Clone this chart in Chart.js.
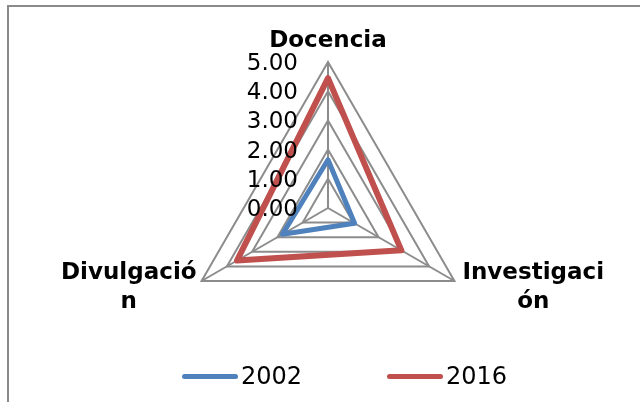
<!DOCTYPE html>
<html>
<head>
<meta charset="utf-8">
<script src="https://cdn.jsdelivr.net/npm/chart.js"></script>
<style>
  body { margin: 0; background: #fff; }
  .wrap { position: relative; width: 640px; height: 402px; overflow: hidden; }
  .frame { position: absolute; left: 7px; top: 5px; width: 700px; height: 500px;
           border-left: 2px solid #8a8a8a; border-top: 2px solid #8a8a8a; }
  canvas { position: absolute; left: 0; top: 0; }
  .legend { position: absolute; top: 362px; left: 0; width: 640px; height: 28px;
            font: 24px "DejaVu Sans"; color: #000; }
  .legend .item { position: absolute; top: 0; height: 28px; display: flex; align-items: center; }
  .legend .line { display: inline-block; width: 56px; height: 5px; border-radius: 3px; margin-right: 3px; }
</style>
</head>
<body>
<div class="wrap">
  <div class="frame"></div>
  <canvas id="radarChart" width="640" height="402"></canvas>
  <div class="legend" id="legend"></div>
</div>
<script>
// datos
const categories = ['Docencia', ['Investigaci', 'ón'], ['Divulgació', 'n']];
const seriesNames = ['2002', '2016'];
const values2002 = [1.65, 1.05, 1.8];
const values2016 = [4.45, 2.9, 3.6];
const tickValues = [0, 1, 2, 3, 4, 5];

const blue = '#4f81bd';
const red = '#c0504d';
const gridColor = '#8c8c8c';

// tick labels go left of the axis, category labels around the vertices
const radarText = {
  id: 'radarText',
  afterDatasetsDraw(chart) {
    const ctx = chart.ctx;
    const r = chart.scales.r;
    ctx.save();
    ctx.fillStyle = '#000';

    ctx.font = '23px "DejaVu Sans"';
    ctx.textAlign = 'right';
    ctx.textBaseline = 'alphabetic';
    r.ticks.forEach(t => {
      const y = r.yCenter - r.getDistanceFromCenterForValue(t.value);
      ctx.fillText(t.label || t.value.toFixed(2), r.xCenter - 30, y + 8);
    });

    ctx.font = 'bold 23px "DejaVu Sans"';
    ctx.textAlign = 'center';
    chart.data.labels.forEach((lab, i) => {
      const lines = [].concat(lab);
      const p = r.getPointPosition(i, r.drawingArea);
      const w = Math.max(...lines.map(s => ctx.measureText(s).width));
      let x = p.x, y = p.y - 2;
      if (i === 0) {
        y = p.y - 15;
      } else if (p.x > r.xCenter) {
        x = p.x + 8 + w / 2;
      } else {
        x = p.x - 5 - w / 2;
      }
      lines.forEach((s, k) => ctx.fillText(s, x, y + k * 29));
    });
    ctx.restore();
  }
};

const ctxRadar = document.getElementById('radarChart');

const chart = new Chart(ctxRadar, {
  type: 'radar',
  data: {
    labels: categories,
    datasets: [{
      label: seriesNames[0],
      data: values2002,
      borderColor: blue,
      backgroundColor: 'transparent',
      borderWidth: 5,
      borderJoinStyle: 'round',
      borderCapStyle: 'round',
      pointRadius: 0,
      fill: false
    },
    {
      label: seriesNames[1],
      data: values2016,
      borderColor: red,
      backgroundColor: 'transparent',
      borderWidth: 6,
      borderJoinStyle: 'round',
      borderCapStyle: 'round',
      pointRadius: 0,
      fill: false
    }]
  },
  options: {
    responsive: false,
    animation: false,
    layout: {
      padding: { top: 62, bottom: 48, left: 16, right: 0 }
    },
    scales: {
      r: {
        min: tickValues[0],
        max: tickValues[tickValues.length - 1],
        ticks: {
          stepSize: 1,
          display: false,
          callback: v => v.toFixed(2)
        },
        pointLabels: { display: false },
        grid: { color: gridColor, lineWidth: 2 },
        angleLines: { color: gridColor, lineWidth: 2 }
      }
    },
    plugins: {
      legend: { display: false },
      tooltip: { enabled: false }
    }
  },
  plugins: [radarText]
});

// leyenda en html, hecha con los datasets
const legendBox = document.getElementById('legend');
chart.data.datasets.forEach((ds, i) => {
  const item = document.createElement('div');
  item.className = 'item';
  item.style.left = (182 + i * 205) + 'px';
  const line = document.createElement('span');
  line.className = 'line';
  line.style.background = ds.borderColor;
  const txt = document.createElement('span');
  txt.textContent = ds.label;
  item.appendChild(line);
  item.appendChild(txt);
  legendBox.appendChild(item);
});
</script>
</body>
</html>
